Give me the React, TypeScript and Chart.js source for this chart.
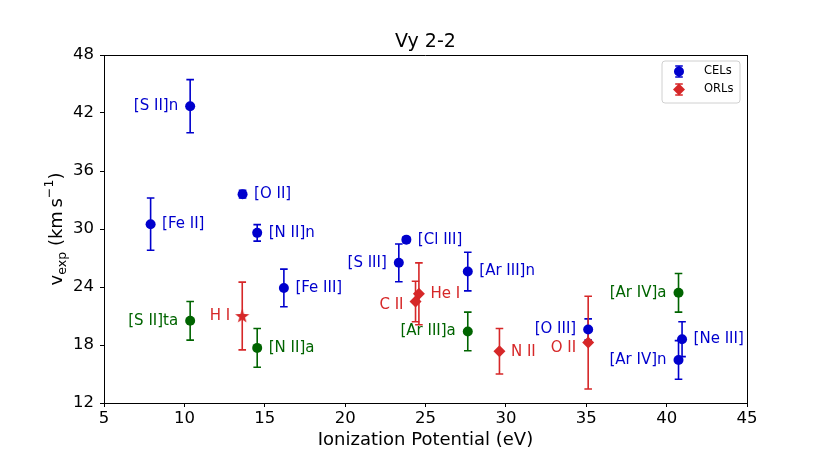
import React, { useEffect, useRef } from "react";
import { Chart, registerables } from "chart.js";

Chart.register(...registerables);

// ---- Data ----
const celNames = ["[S II]n", "[Fe II]", "[O II]", "[N II]n", "[Fe III]", "[S III]", "[Cl III]", "[Ar III]n", "[O III]", "[Ne III]", "[Ar IV]n"];
const celIP = [10.36, 7.9, 13.62, 14.53, 16.19, 23.34, 23.81, 27.63, 35.12, 40.96, 40.74];
const celV = [42.7, 30.5, 33.6, 29.6, 23.9, 26.5, 28.9, 25.6, 19.6, 18.6, 16.45];
const celErr = [2.75, 2.7, 0.4, 0.85, 1.95, 1.95, 0.3, 2.0, 1.1, 1.8, 2.0];
const celSide = ["l", "r", "r", "r", "r", "l", "r", "r", "l", "r", "l"];

const atomNames = ["[S II]ta", "[N II]a", "[Ar III]a", "[Ar IV]a"];
const atomIP = [10.36, 14.53, 27.63, 40.74];
const atomV = [20.5, 17.7, 19.4, 23.4];
const atomErr = [2.0, 2.0, 2.0, 2.0];
const atomSide = ["l", "r", "l", "l"];

const orlNames = ["C II", "He I", "N II", "O II"];
const orlIP = [24.38, 24.59, 29.6, 35.12];
const orlV = [22.5, 23.3, 17.35, 18.25];
const orlErr = [2.1, 3.2, 2.35, 4.8];
const orlSide = ["l", "r", "r", "l"];
const orlDy = [4, 0, 1, 6];

const hiNames = ["H I"];
const hiIP = [13.6];
const hiV = [21.0];
const hiErr = [3.5];
const hiSide = ["l"];

const xTicks = [5, 10, 15, 20, 25, 30, 35, 40, 45];
const yTicks = [12, 18, 24, 30, 36, 42, 48];

const titleText = "Vy 2-2";
const xLabelText = "Ionization Potential (eV)";
const legendLabels = ["CELs", "ORLs"];

const BLUE = "#0000cd";
const GREEN = "#006400";
const RED = "#d62728";
const FONT = "'DejaVu Sans', sans-serif";

function makeStar(color: string) {
  const c = document.createElement("canvas");
  c.width = 18;
  c.height = 18;
  const g = c.getContext("2d")!;
  const cx = 9, cy = 9.5, R = 7.4, r = 3.0;
  g.beginPath();
  for (let i = 0; i < 10; i++) {
    const rad = i % 2 === 0 ? R : r;
    const a = -Math.PI / 2 + (i * Math.PI) / 5;
    const x = cx + rad * Math.cos(a);
    const y = cy + rad * Math.sin(a);
    if (i === 0) g.moveTo(x, y);
    else g.lineTo(x, y);
  }
  g.closePath();
  g.fillStyle = color;
  g.fill();
  return c;
}

const groups = [
  { names: celNames, x: celIP, y: celV, err: celErr, side: celSide, dy: celNames.map(() => 0), color: BLUE },
  { names: atomNames, x: atomIP, y: atomV, err: atomErr, side: atomSide, dy: atomNames.map(() => 0), color: GREEN },
  { names: orlNames, x: orlIP, y: orlV, err: orlErr, side: orlSide, dy: orlDy, color: RED },
  { names: hiNames, x: hiIP, y: hiV, err: hiErr, side: hiSide, dy: [0], color: RED },
];

function drawErrBar(ctx: CanvasRenderingContext2D, px: number, top: number, bot: number, color: string) {
  ctx.strokeStyle = color;
  ctx.lineWidth = 1.6;
  ctx.beginPath();
  ctx.moveTo(px, top);
  ctx.lineTo(px, bot);
  ctx.moveTo(px - 3.8, top);
  ctx.lineTo(px + 3.8, top);
  ctx.moveTo(px - 3.8, bot);
  ctx.lineTo(px + 3.8, bot);
  ctx.stroke();
}

const overlay = {
  id: "overlay",
  beforeDatasetsDraw(chart: any) {
    const ctx: CanvasRenderingContext2D = chart.ctx;
    const xs = chart.scales.x;
    const ys = chart.scales.y;
    ctx.save();
    groups.forEach((g) => {
      g.x.forEach((xv, i) => {
        const px = xs.getPixelForValue(xv);
        const top = ys.getPixelForValue(g.y[i] + g.err[i]);
        const bot = ys.getPixelForValue(g.y[i] - g.err[i]);
        drawErrBar(ctx, px, top, bot, g.color);
      });
    });
    ctx.restore();
  },
  afterDatasetsDraw(chart: any) {
    const ctx: CanvasRenderingContext2D = chart.ctx;
    const xs = chart.scales.x;
    const ys = chart.scales.y;
    const area = chart.chartArea;
    ctx.save();
    // point labels
    ctx.font = `15px ${FONT}`;
    ctx.textBaseline = "middle";
    groups.forEach((g) => {
      ctx.fillStyle = g.color;
      g.x.forEach((xv, i) => {
        const px = xs.getPixelForValue(xv);
        const py = ys.getPixelForValue(g.y[i]) + g.dy[i];
        if (g.side[i] === "l") {
          ctx.textAlign = "right";
          ctx.fillText(g.names[i], px - 12, py);
        } else {
          ctx.textAlign = "left";
          ctx.fillText(g.names[i], px + 11.5, py);
        }
      });
    });

    // top & right spines
    ctx.strokeStyle = "#000";
    ctx.lineWidth = 1;
    ctx.beginPath();
    ctx.moveTo(area.left, Math.round(area.top) + 0.5);
    ctx.lineTo(area.right, Math.round(area.top) + 0.5);
    ctx.moveTo(Math.round(area.right) + 0.5, area.top);
    ctx.lineTo(Math.round(area.right) + 0.5, area.bottom);
    ctx.stroke();

    // legend
    const lx = 662, ly = 61, lw = 78, lh = 42;
    ctx.beginPath();
    const rr = 3;
    ctx.moveTo(lx + rr, ly);
    ctx.arcTo(lx + lw, ly, lx + lw, ly + lh, rr);
    ctx.arcTo(lx + lw, ly + lh, lx, ly + lh, rr);
    ctx.arcTo(lx, ly + lh, lx, ly, rr);
    ctx.arcTo(lx, ly, lx + lw, ly, rr);
    ctx.closePath();
    ctx.fillStyle = "rgba(255,255,255,0.8)";
    ctx.fill();
    ctx.strokeStyle = "#d0d0d0";
    ctx.lineWidth = 1;
    ctx.stroke();
    const mx = 679;
    const rows = [71.5, 89.5];
    drawErrBar(ctx, mx, rows[0] - 5.5, rows[0] + 5.5, BLUE);
    ctx.fillStyle = BLUE;
    ctx.beginPath();
    ctx.arc(mx, rows[0], 5, 0, Math.PI * 2);
    ctx.fill();
    drawErrBar(ctx, mx, rows[1] - 5.5, rows[1] + 5.5, RED);
    ctx.fillStyle = RED;
    ctx.beginPath();
    ctx.moveTo(mx, rows[1] - 6);
    ctx.lineTo(mx + 6, rows[1]);
    ctx.lineTo(mx, rows[1] + 6);
    ctx.lineTo(mx - 6, rows[1]);
    ctx.closePath();
    ctx.fill();
    ctx.fillStyle = "#000";
    ctx.font = `11.5px ${FONT}`;
    ctx.textAlign = "left";
    ctx.textBaseline = "middle";
    ctx.fillText(legendLabels[0], 704, rows[0]);
    ctx.fillText(legendLabels[1], 704, rows[1]);

    // title
    const cx = (area.left + area.right) / 2;
    ctx.font = `19px ${FONT}`;
    ctx.textAlign = "center";
    ctx.textBaseline = "alphabetic";
    ctx.fillText(titleText, cx, 47);

    // x label
    ctx.font = `18px ${FONT}`;
    ctx.textBaseline = "middle";
    ctx.fillText(xLabelText, cx, 440);

    // y label with sub/superscript
    const cy = (area.top + area.bottom) / 2;
    const parts = [
      { t: "v", s: 18, dy: 0 },
      { t: "exp", s: 12.6, dy: 4 },
      { t: " (km\u2009s", s: 18, dy: 0 },
      { t: "\u22121", s: 12.6, dy: -9 },
      { t: ")", s: 18, dy: 0 },
    ];
    let total = 0;
    parts.forEach((p) => {
      ctx.font = `${p.s}px ${FONT}`;
      total += ctx.measureText(p.t).width;
    });
    ctx.translate(62, cy);
    ctx.rotate(-Math.PI / 2);
    ctx.textAlign = "left";
    ctx.textBaseline = "alphabetic";
    let pos = -total / 2;
    parts.forEach((p) => {
      ctx.font = `${p.s}px ${FONT}`;
      ctx.fillText(p.t, pos, p.dy);
      pos += ctx.measureText(p.t).width;
    });
    ctx.restore();
  },
};

export default function App() {
  const ref = useRef<HTMLCanvasElement>(null);
  useEffect(() => {
    const star = makeStar(RED);
    const toPts = (xs: number[], ys: number[]) => xs.map((x, i) => ({ x, y: ys[i] }));
    const chart = new Chart(ref.current!, {
      type: "scatter",
      data: {
        datasets: [
          { label: "CELs", data: toPts(celIP, celV), pointStyle: "circle", pointRadius: 5, backgroundColor: BLUE, borderColor: BLUE, borderWidth: 0 },
          { label: "atom", data: toPts(atomIP, atomV), pointStyle: "circle", pointRadius: 5, backgroundColor: GREEN, borderColor: GREEN, borderWidth: 0 },
          { label: "ORLs", data: toPts(orlIP, orlV), pointStyle: "rectRot", pointRadius: 6, backgroundColor: RED, borderColor: RED, borderWidth: 0 },
          { label: "HI", data: toPts(hiIP, hiV), pointStyle: star as any, pointRadius: 8, backgroundColor: RED, borderColor: RED, borderWidth: 0 },
        ],
      },
      options: {
        responsive: false,
        animation: false,
        events: [],
        layout: { padding: { top: 55, right: 83, left: 0, bottom: 0 } },
        plugins: { legend: { display: false }, tooltip: { enabled: false }, title: { display: false } },
        scales: {
          x: {
            type: "linear",
            min: 5,
            max: 45,
            afterBuildTicks: (s: any) => { s.ticks = xTicks.map((v) => ({ value: v })); },
            afterFit: (s: any) => { s.height = 58; },
            ticks: { color: "#000", font: { family: FONT, size: 16.5 }, padding: 2, maxRotation: 0 },
            grid: { drawOnChartArea: false, drawTicks: true, tickLength: 4, color: "#000", lineWidth: 1 },
            border: { color: "#000", width: 1 },
          },
          y: {
            type: "linear",
            min: 12,
            max: 48,
            afterBuildTicks: (s: any) => { s.ticks = yTicks.map((v) => ({ value: v })); },
            afterFit: (s: any) => { s.width = 104; },
            ticks: { color: "#000", font: { family: FONT, size: 16.5 }, padding: 6 },
            grid: { drawOnChartArea: false, drawTicks: true, tickLength: 4, color: "#000", lineWidth: 1 },
            border: { color: "#000", width: 1 },
          },
        },
      },
      plugins: [overlay],
    } as any);
    return () => chart.destroy();
  }, []);
  return (
    <div style={{ position: "absolute", left: 0, top: 0, width: 830, height: 461 }}>
      <canvas ref={ref} width={830} height={461} style={{ width: 830, height: 461 }} />
    </div>
  );
}
